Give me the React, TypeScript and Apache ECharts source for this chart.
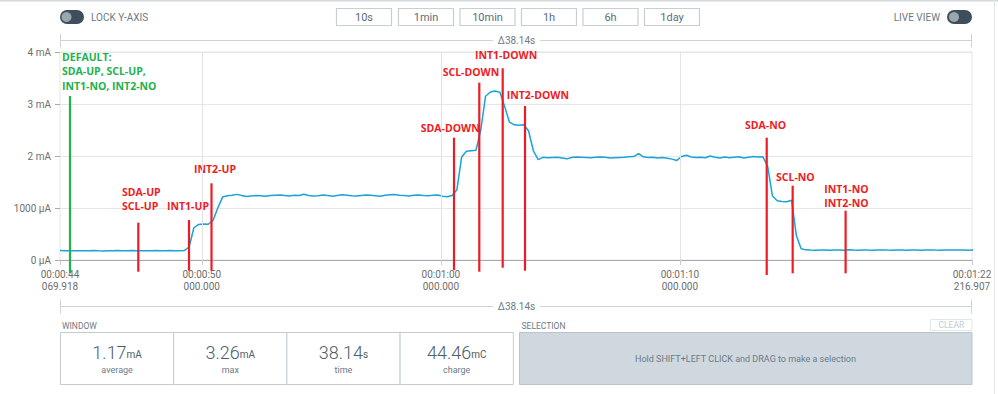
import React, { useEffect, useRef } from 'react';
import * as echarts from 'echarts';

// ---- data ----
const T_START = 44.069918;
const T_END = 82.216907;
const SAMPLE_STEP = 0.2; // seconds between samples

// current in µA, one sample every SAMPLE_STEP seconds from T_START
const baseline = [185, 180, 176, 179, 178, 176, 180, 182, 178, 175, 180, 178, 181, 177, 180, 182, 178, 180, 176, 179, 182, 180, 178, 181, 179, 180, 182];
const riseUp = [250, 620, 685, 690, 688, 760, 1000, 1210];
const plateauUp = [1235, 1245, 1262, 1240, 1220, 1230, 1240, 1235, 1225, 1240, 1245, 1250, 1240, 1230, 1245, 1240, 1265, 1240, 1230, 1235, 1250, 1240, 1225, 1240, 1255, 1245, 1235, 1230, 1240, 1250, 1245, 1235, 1225, 1245, 1255, 1260, 1245, 1240, 1230, 1245, 1250, 1240, 1235, 1245, 1250, 1225, 1215, 1240];
const downSteps = [1350, 1980, 2090, 2100, 2110, 2500, 3150, 3230, 3250, 3225, 2950, 2650, 2600, 2590, 2600, 2480, 2100, 1930];
const plateauDown = [1975, 1965, 1970, 1975, 1960, 1945, 1970, 1980, 1975, 1970, 1965, 1975, 1980, 1975, 1960, 1965, 1970, 1975, 1985, 1990, 2045, 1985, 1970, 1975, 1960, 1970, 1955, 1940, 1915, 1990, 2015, 1980, 1970, 1975, 1965, 2000, 1975, 1960, 1980, 1965, 1975, 1985, 1960, 1975, 1990, 1980, 1985];
const noSteps = [1800, 1230, 1140, 1125, 1120, 1150, 470, 215];
const tail = [195, 190, 188, 192, 190, 187, 190, 193, 189, 198, 191, 188, 192, 190, 189, 191, 193, 190, 188, 190, 192, 189, 191, 190, 188, 192, 193, 190, 189, 191, 190, 194, 192, 190, 188, 191];
const currentUA = [...baseline, ...riseUp, ...plateauUp, ...downSteps, ...plateauDown, ...noSteps, ...tail];

const xTickValues = [T_START, 50, 60, 70, T_END];
const xGridValues = [50, 60, 70];
const Y_MAX = 4000;
const Y_STEP = 1000;

const eventLabels = [
  'DEFAULT:\nSDA-UP, SCL-UP,\nINT1-NO, INT2-NO',
  'SDA-UP\nSCL-UP',
  'INT1-UP',
  'INT2-UP',
  'SDA-DOWN',
  'SCL-DOWN',
  'INT1-DOWN',
  'INT2-DOWN',
  'SDA-NO',
  'SCL-NO',
  'INT1-NO\nINT2-NO',
];
const eventTimes = [44.488, 47.345, 49.466, 50.407, 60.55, 61.608, 62.587, 63.52, 73.63, 74.716, 76.93];
const eventTopUA = [3154, 717, 769, 1475, 2352, 3410, 3686, 2962, 2352, 1429, 948];
const eventBottomUA = [-250, -225, -206, -206, -192, -225, -148, -206, -288, -256, -256];

const summaryValues = ['1.17', '3.26', '38.14', '44.46'];
const summaryUnits = ['mA', 'mA', 's', 'mC'];
const summaryLabels = ['average', 'max', 'time', 'charge'];
const rangeButtons = ['10s', '1min', '10min', '1h', '6h', '1day'];
const deltaLabel = 'Δ38.14s';

// ---- styles ----
const labelDx = [-8, -16.3, -22, -17.5, -33.3, -36.6, -27.7, -18.3, -21.7, -16.7, -21.4];
const labelDy = [-10, -16.7, -14, -14.3, -9.4, -10.4, -13.3, -11, -12.4, -9, -7.4];
const LH = 14.5;
const GREEN = '#22b14c';
const RED = '#ed1c24';
const BLUE = '#1ba3d6';
const UI_GRAY = '#6b7b86';
const UI_BORDER = '#cdd5da';
const FONT = 'Roboto';

const pad2 = (n: number) => String(n).padStart(2, '0');
function formatTime(v: number) {
  const s = Math.floor(v + 1e-9);
  const frac = (v - s) * 1000;
  return `00:${pad2(Math.floor(s / 60))}:${pad2(s % 60)}\n${frac.toFixed(3).padStart(7, '0')}`;
}
function formatCurrent(v: number) {
  if (v === 0) return '0 µA';
  if (v < 2000) return `${v} µA`;
  return `${v / 1000} mA`;
}

function buildGraphic() {
  const els: any[] = [];
  const txt = (x: number, y: number, text: string, extra: any = {}) => ({
    type: 'text', x, y,
    style: { text, fill: UI_GRAY, fontSize: 10, fontFamily: FONT, verticalAlign: 'middle', align: 'left', ...extra },
  });
  // frame
  els.push({ type: 'line', shape: { x1: 0, y1: 0.5, x2: 998, y2: 0.5 }, style: { stroke: '#d3d9dd', lineWidth: 2 } });
  els.push({ type: 'line', shape: { x1: 994.5, y1: 0, x2: 994.5, y2: 394 }, style: { stroke: '#e3e7ea', lineWidth: 1 } });
  // lock toggle
  els.push({ type: 'rect', shape: { x: 60, y: 10, width: 24, height: 14, r: 7 }, style: { fill: '#3e4f5b' } });
  els.push({ type: 'circle', shape: { cx: 66.5, cy: 17, r: 5 }, style: { fill: '#9ba7af' } });
  els.push(txt(91, 17.5, 'LOCK Y-AXIS'));
  // range buttons
  const bx = [336, 398, 459.5, 521, 582.5, 644];
  rangeButtons.forEach((b, i) => {
    els.push({ type: 'rect', shape: { x: bx[i] + 0.5, y: 8.5, width: 55, height: 17 }, style: { fill: '#fff', stroke: '#c8cfd4', lineWidth: 1.2 } });
    els.push(txt(bx[i] + 28, 17, b, { align: 'center', fontSize: 11, fill: '#5d6d78' }));
  });
  // live view
  els.push(txt(940, 17.5, 'LIVE VIEW', { align: 'right' }));
  els.push({ type: 'rect', shape: { x: 947, y: 10, width: 25, height: 14, r: 7 }, style: { fill: '#3e4f5b' } });
  els.push({ type: 'circle', shape: { cx: 954, cy: 17, r: 5 }, style: { fill: '#9ba7af' } });
  // delta brackets
  [40.5, 306.5].forEach((y) => {
    els.push({ type: 'line', shape: { x1: 60, y1: y, x2: 493, y2: y }, style: { stroke: UI_BORDER, lineWidth: 1 } });
    els.push({ type: 'line', shape: { x1: 540, y1: y, x2: 972, y2: y }, style: { stroke: UI_BORDER, lineWidth: 1 } });
    els.push({ type: 'line', shape: { x1: 60.5, y1: y - 7, x2: 60.5, y2: y + 7 }, style: { stroke: UI_BORDER, lineWidth: 1 } });
    els.push({ type: 'line', shape: { x1: 971.5, y1: y - 7, x2: 971.5, y2: y + 7 }, style: { stroke: UI_BORDER, lineWidth: 1 } });
    els.push(txt(516.5, y, deltaLabel, { align: 'center' }));
  });
  // window panel
  els.push(txt(62, 326, 'WINDOW', { fontSize: 8.5 }));
  const cw = 113.2;
  summaryValues.forEach((v, i) => {
    const x = 60.5 + i * cw;
    els.push({ type: 'rect', shape: { x, y: 332.5, width: cw, height: 52 }, style: { fill: '#fff', stroke: '#c3ccd2', lineWidth: 1 } });
    els.push({
      type: 'text', x: x + cw / 2, y: 361,
      style: {
        text: `{v|${v}}{u|${summaryUnits[i]}}`, align: 'center', verticalAlign: 'bottom',
        rich: {
          v: { fontSize: 18, fontFamily: FONT, fontWeight: 300, fill: '#4d5d69', verticalAlign: 'bottom', lineHeight: 20 },
          u: { fontSize: 10, fontFamily: FONT, fill: '#4d5d69', verticalAlign: 'bottom', lineHeight: 20, padding: [0, 0, 2, 0] },
        },
      },
    });
    els.push(txt(x + cw / 2, 370, summaryLabels[i], { align: 'center', fontSize: 9 }));
  });
  // selection panel
  els.push(txt(521.5, 326, 'SELECTION', { fontSize: 8.5 }));
  els.push({ type: 'rect', shape: { x: 930.5, y: 319.5, width: 41.5, height: 11 }, style: { fill: '#fff', stroke: '#e1e6e9', lineWidth: 1 } });
  els.push(txt(951.3, 325.3, 'CLEAR', { align: 'center', fontSize: 8.5, fill: '#c3cad0' }));
  els.push({ type: 'rect', shape: { x: 519.5, y: 332.5, width: 452.5, height: 52 }, style: { fill: '#cfd8de', stroke: '#b9c4cb', lineWidth: 1 } });
  els.push(txt(745.5, 358.5, 'Hold SHIFT+LEFT CLICK and DRAG to make a selection', { align: 'center', fontSize: 9 }));
  return els;
}

export default function App() {
  const ref = useRef<HTMLDivElement>(null);
  useEffect(() => {
    if (!ref.current) return;
    const chart = echarts.init(ref.current, undefined, { renderer: 'svg' });
    const lineData = currentUA.map((v, i) => [T_START + i * SAMPLE_STEP, v]);
    const eventData = eventTimes.map((t, i) => [t, eventTopUA[i], eventBottomUA[i]]);
    chart.setOption({
      animation: false,
      backgroundColor: '#fff',
      grid: { left: 60, right: 26, top: 52, bottom: 134, show: true, borderColor: '#e4e4e4', borderWidth: 1 },
      xAxis: {
        type: 'value', min: T_START, max: T_END,
        axisLine: { show: true, lineStyle: { color: '#aaaaaa', width: 1 } },
        axisTick: { show: true, customValues: xTickValues, length: 5, lineStyle: { color: '#cccccc' } },
        axisLabel: {
          customValues: xTickValues, formatter: (v: number) => formatTime(v),
          color: '#6e6e6e', fontSize: 10, fontFamily: FONT, lineHeight: 12.5, margin: 8,
        },
        splitLine: { show: false },
      },
      yAxis: {
        type: 'value', min: 0, max: Y_MAX, interval: Y_STEP,
        axisLine: { show: false },
        axisTick: { show: true, length: 5, lineStyle: { color: '#aaaaaa' } },
        axisLabel: { formatter: (v: number) => formatCurrent(v), color: '#6e6e6e', fontSize: 10, fontFamily: FONT, margin: 9 },
        splitLine: { show: true, lineStyle: { color: '#e6e6e6', width: 1 } },
      },
      series: [
        {
          type: 'line', z: 1, data: [[T_START, 0]], showSymbol: false, lineStyle: { opacity: 0 }, silent: true,
          markLine: {
            silent: true, symbol: 'none', label: { show: false },
            lineStyle: { color: '#e3e3e3', type: 'solid', width: 1 },
            data: xGridValues.map((v) => ({ xAxis: v })),
          },
        },
        {
          type: 'line', z: 2, data: lineData, showSymbol: false, smooth: false,
          lineStyle: { color: BLUE, width: 1.5 }, itemStyle: { color: BLUE },
        },
        {
          type: 'custom', z: 3, clip: false, data: eventData, encode: { x: 0, y: 1 },
          renderItem: (params: any, api: any) => {
            const idx = params.dataIndex;
            const t = api.value(0);
            const p1 = api.coord([t, api.value(1)]);
            const p2 = api.coord([t, api.value(2)]);
            const color = idx === 0 ? GREEN : RED;
            return {
              type: 'group',
              children: [
                { type: 'line', shape: { x1: p1[0], y1: p1[1], x2: p2[0], y2: p2[1] }, style: { stroke: color, lineWidth: 2.2 } },
                {
                  type: 'text', x: p1[0] + labelDx[idx], y: p1[1] + labelDy[idx] + LH / 2,
                  style: {
                    text: eventLabels[idx], fill: color, fontSize: 10.5, fontWeight: 'bold', fontFamily: '"Open Sans"',
                    align: 'left', verticalAlign: 'bottom', lineHeight: LH,
                  },
                },
              ],
            };
          },
        },
      ],
      graphic: { elements: buildGraphic() },
    });
    return () => chart.dispose();
  }, []);
  return <div ref={ref} style={{ position: 'fixed', left: 0, top: 0, width: 998, height: 394, background: '#fff' }} />;
}
